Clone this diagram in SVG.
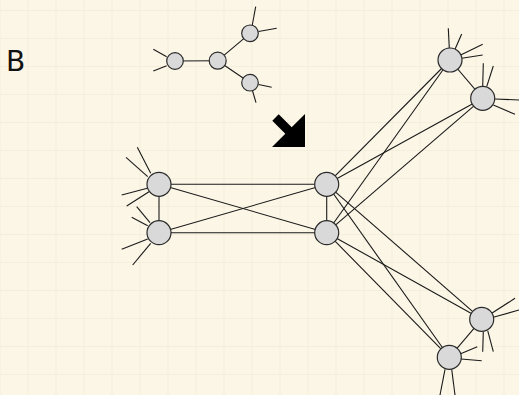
<svg xmlns="http://www.w3.org/2000/svg" width="519" height="395" viewBox="0 0 519 395">
<style>
.n{fill:#d9d9d9;stroke:#2a2a2a;stroke-width:1.2}
.e{stroke:#1a1a1a;stroke-width:1.1;fill:none}
.lbl{font-family:"DejaVu Sans",Verdana,sans-serif;font-size:28px;fill:#111}
</style>
<defs>
<pattern id="grid" x="-0.5" y="10" width="28" height="28" patternUnits="userSpaceOnUse">
<path d="M0 0H28M0 0V28" stroke="#eee7d1" stroke-width="1" fill="none"/>
</pattern>
</defs>
<rect width="519" height="395" fill="#fbf6e6"/>
<rect width="519" height="395" fill="url(#grid)"/>
<text class="lbl" x="6" y="71">B</text>
<polygon id="arrow" points="278.7,114.3 291.7,127.3 305,114 305,147 272,147 285.3,133.7 272.3,120.7" fill="#000"/>
<g id="connectors" class="e">
<line x1="175" y1="61" x2="217.7" y2="60.7"/>
<line x1="217.7" y1="60.7" x2="250" y2="33.3"/>
<line x1="217.7" y1="60.7" x2="250" y2="82.7"/>
<line x1="166.7" y1="56.7" x2="153.3" y2="49.3"/>
<line x1="166.7" y1="65.7" x2="153.3" y2="71"/>
<line x1="252.3" y1="25" x2="255.7" y2="6.7"/>
<line x1="258.5" y1="31.5" x2="276.7" y2="28.3"/>
<line x1="258.5" y1="84.5" x2="271.7" y2="87.3"/>
<line x1="252.3" y1="90" x2="256" y2="102.7"/>
<line x1="159" y1="184.3" x2="326.7" y2="184.3"/>
<line x1="159" y1="232.7" x2="326.7" y2="232.7"/>
<line x1="159" y1="184.3" x2="326.7" y2="232.7"/>
<line x1="159" y1="232.7" x2="326.7" y2="184.3"/>
<line x1="159" y1="184.3" x2="159" y2="232.7"/>
<line x1="326.7" y1="184.3" x2="326.7" y2="232.7"/>
<line x1="326.7" y1="184.3" x2="450" y2="60"/>
<line x1="326.7" y1="184.3" x2="482.7" y2="98.3"/>
<line x1="326.7" y1="232.7" x2="450" y2="60"/>
<line x1="326.7" y1="232.7" x2="482.7" y2="98.3"/>
<line x1="326.7" y1="184.3" x2="481.7" y2="319.3"/>
<line x1="326.7" y1="184.3" x2="449.3" y2="357.3"/>
<line x1="326.7" y1="232.7" x2="481.7" y2="319.3"/>
<line x1="326.7" y1="232.7" x2="449.3" y2="357.3"/>
<line x1="450" y1="60" x2="482.7" y2="98.3"/>
<line x1="481.7" y1="319.3" x2="449.3" y2="357.3"/>
<line x1="150.7" y1="173.3" x2="137.3" y2="147.3"/>
<line x1="147.7" y1="176.7" x2="126" y2="157.3"/>
<line x1="147.3" y1="188.3" x2="121.7" y2="195"/>
<line x1="149" y1="191.7" x2="126.7" y2="206"/>
<line x1="150" y1="222.7" x2="136.7" y2="206.7"/>
<line x1="147.7" y1="225.7" x2="131.7" y2="217.3"/>
<line x1="147.7" y1="239" x2="121.7" y2="249.3"/>
<line x1="150.7" y1="243.3" x2="132.7" y2="265"/>
<line x1="449.3" y1="48.3" x2="448.3" y2="28.3"/>
<line x1="455" y1="49.3" x2="461.7" y2="34"/>
<line x1="460.7" y1="55" x2="482.7" y2="44.3"/>
<line x1="461.7" y1="58.3" x2="482.7" y2="55"/>
<line x1="482.7" y1="86.7" x2="483.3" y2="63.3"/>
<line x1="486.7" y1="86.7" x2="493.3" y2="66"/>
<line x1="495" y1="99" x2="519" y2="100"/>
<line x1="493.3" y1="105" x2="515" y2="114.3"/>
<line x1="491.7" y1="313.3" x2="515" y2="298.3"/>
<line x1="493.3" y1="317.3" x2="519" y2="310"/>
<line x1="483.3" y1="331.7" x2="482.7" y2="351.7"/>
<line x1="487.7" y1="330.7" x2="493.3" y2="351.7"/>
<line x1="460" y1="354" x2="477.3" y2="346.7"/>
<line x1="461" y1="359" x2="481.7" y2="360.7"/>
<line x1="445" y1="369.3" x2="440" y2="395"/>
<line x1="451.7" y1="369.3" x2="455" y2="395"/>
</g>
<g id="s1"><circle class="n" cx="175" cy="61" r="8.3"/></g>
<g id="s2"><circle class="n" cx="217.7" cy="60.7" r="8.5"/></g>
<g id="s3"><circle class="n" cx="250" cy="33.3" r="8.3"/></g>
<g id="s4"><circle class="n" cx="250" cy="82.7" r="8.3"/></g>
<g id="lt"><circle class="n" cx="159" cy="184.3" r="12"/></g>
<g id="lb"><circle class="n" cx="159" cy="232.7" r="12"/></g>
<g id="rt"><circle class="n" cx="326.7" cy="184.3" r="12"/></g>
<g id="rb"><circle class="n" cx="326.7" cy="232.7" r="12"/></g>
<g id="n1"><circle class="n" cx="450" cy="60" r="12"/></g>
<g id="n2"><circle class="n" cx="482.7" cy="98.3" r="12"/></g>
<g id="n3"><circle class="n" cx="481.7" cy="319.3" r="12"/></g>
<g id="n4"><circle class="n" cx="449.3" cy="357.3" r="12"/></g>
</svg>
